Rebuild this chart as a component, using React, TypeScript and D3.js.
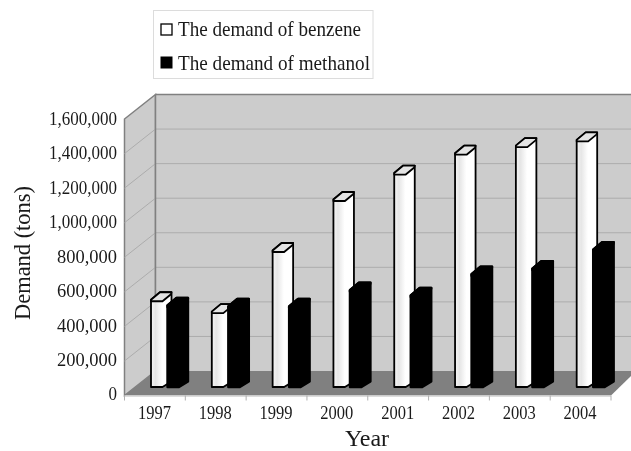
import React from "react";
import * as d3 from "d3";

const years = ["1997", "1998", "1999", "2000", "2001", "2002", "2003", "2004"];
const benzene = [505000, 436000, 790000, 1085000, 1238000, 1353000, 1397000, 1430000];
const methanol = [472000, 466000, 466000, 560000, 530000, 653000, 685000, 795000];
const yTicks = [0, 200000, 400000, 600000, 800000, 1000000, 1200000, 1400000, 1600000];
const legendLabels = ["The demand of benzene", "The demand of methanol"];

const W = 631, H = 451;
const FONT = "'Liberation Serif', serif";
const TEXT = "#1a1a1a";
const frontLeft = 124.5, frontRight = 611, frontBottom = 395.5, frontTop = 119;
const depthX = 31, depthY = -24.5;
const barDepthX = 9, barDepthY = -7.5;
const barFaceW = 11.5, barBase = 387;

const x = d3.scaleBand<string>().domain(years).range([frontLeft, frontRight]);
const y = d3.scaleLinear().domain([0, 1600000]).range([frontBottom, frontTop]);
const fmt = d3.format(",");
const barH = (v: number) => y(0) - y(v);

function Bar({ left, value, fill, cap, sw }: { left: number; value: number; fill: string; cap: string; sw: number }) {
  const t = barBase - barH(value);
  const r = left + barFaceW;
  const silhouette = `M${left},${t}L${left + barDepthX},${t + barDepthY}L${r + barDepthX},${t + barDepthY}L${r + barDepthX},${barBase + barDepthY + 2}L${r},${barBase}L${left},${barBase}Z`;
  const top = `M${left},${t}L${left + barDepthX},${t + barDepthY}L${r + barDepthX},${t + barDepthY}L${r + barDepthX - 0.5},${t + barDepthY + 2}L${r},${t + 1.5}L${left},${t + 1.5}Z`;
  const common = { stroke: "#000", strokeWidth: sw, strokeLinejoin: "round" as const };
  return (
    <g>
      <path d={silhouette} fill={fill} {...common} />
      <path d={top} fill={cap} {...common} />
    </g>
  );
}

export default function App() {
  return (
    <svg width={W} height={H} viewBox={`0 0 ${W} ${H}`} style={{ position: "fixed", left: 0, top: 0, background: "#fff", filter: "blur(0.35px)" }}>
      <defs>
        <linearGradient id="barFace" x1="0" x2="1" y1="0" y2="0">
          <stop offset="0" stopColor="#f6f6f6" />
          <stop offset="0.22" stopColor="#e6e6e6" />
          <stop offset="0.55" stopColor="#ffffff" />
          <stop offset="1" stopColor="#ffffff" />
        </linearGradient>
      </defs>

      {/* side wall, back wall, floor */}
      <polygon
        points={`${frontLeft},${frontTop} ${frontLeft + depthX},${frontTop + depthY} ${frontLeft + depthX},${frontBottom + depthY} ${frontLeft},${frontBottom}`}
        fill="#cccccc" stroke="#808080" strokeWidth={1.5}
      />
      <rect x={frontLeft + depthX} y={frontTop + depthY} width={W} height={frontBottom - frontTop} fill="#cccccc" />
      <line x1={frontLeft + depthX} x2={W} y1={frontTop + depthY} y2={frontTop + depthY} stroke="#808080" strokeWidth={1.5} />
      <polygon
        points={`${frontLeft},${frontBottom} ${frontLeft + depthX},${frontBottom + depthY} ${W},${frontBottom + depthY} ${W},${frontBottom + depthY + 5} ${frontRight},${frontBottom}`}
        fill="#808080"
      />
      {yTicks.slice(1, -1).map((t) => (
        <g key={t} stroke="#acacac" strokeWidth={1}>
          <line x1={frontLeft} y1={y(t)} x2={frontLeft + depthX} y2={y(t) + depthY} />
          <line x1={frontLeft + depthX} y1={y(t) + depthY} x2={W} y2={y(t) + depthY} />
        </g>
      ))}
      <line x1={frontLeft + depthX} x2={frontLeft + depthX} y1={frontTop + depthY} y2={frontBottom + depthY} stroke="#808080" strokeWidth={1.5} />

      {/* x axis */}
      <line x1={frontLeft} x2={frontRight} y1={frontBottom + 0.5} y2={frontBottom + 0.5} stroke="#d0d0d0" strokeWidth={1.5} />
      {years.concat("").map((_, i) => {
        const px = frontLeft + i * x.step();
        return <line key={i} x1={px} x2={px} y1={frontBottom} y2={frontBottom + 5} stroke="#b0b0b0" strokeWidth={1} />;
      })}
      {years.map((yr) => (
        <text key={yr} x={x(yr)! + x.bandwidth() / 2 - 0.5} y={419} textAnchor="middle" fontFamily={FONT} fontSize={18} textLength={33} lengthAdjust="spacingAndGlyphs" fill={TEXT}>{yr}</text>
      ))}

      {/* y axis */}
      {yTicks.map((t) => (
        <text key={t} x={117} y={y(t) + (t === 0 ? 4.5 : 5.5)} textAnchor="end" fontFamily={FONT} fontSize={18.5} textLength={t === 0 ? 8.5 : t < 1000000 ? 60 : 68} lengthAdjust="spacingAndGlyphs" fill={TEXT}>{fmt(t)}</text>
      ))}

      {/* bars */}
      {years.map((yr, i) => (
        <g key={yr}>
          <Bar left={x(yr)! + 26.5} value={benzene[i]} fill="url(#barFace)" cap="#e4e4e4" sw={1.8} />
          <Bar left={x(yr)! + 43} value={methanol[i]} fill="#000" cap="#000" sw={2.4} />
        </g>
      ))}

      {/* titles */}
      <text transform="translate(30,253) rotate(-90)" textAnchor="middle" fontFamily={FONT} fontSize={24} textLength={134} lengthAdjust="spacingAndGlyphs" fill={TEXT}>Demand (tons)</text>
      <text x={367} y={445.5} textAnchor="middle" fontFamily={FONT} fontSize={24} fill={TEXT}>Year</text>

      {/* legend */}
      <rect x={153.5} y={10.5} width={219.5} height={68} fill="#fff" stroke="#dcdcdc" strokeWidth={1} />
      <rect x={161} y={24} width={11} height={11} fill="#fff" stroke="#000" strokeWidth={1.3} />
      <rect x={160.5} y={56.5} width={12} height={12} fill="#000" />
      <text x={178} y={36} fontFamily={FONT} fontSize={21} textLength={183} lengthAdjust="spacingAndGlyphs" fill={TEXT}>{legendLabels[0]}</text>
      <text x={178} y={69.5} fontFamily={FONT} fontSize={21} textLength={192} lengthAdjust="spacingAndGlyphs" fill={TEXT}>{legendLabels[1]}</text>
    </svg>
  );
}
